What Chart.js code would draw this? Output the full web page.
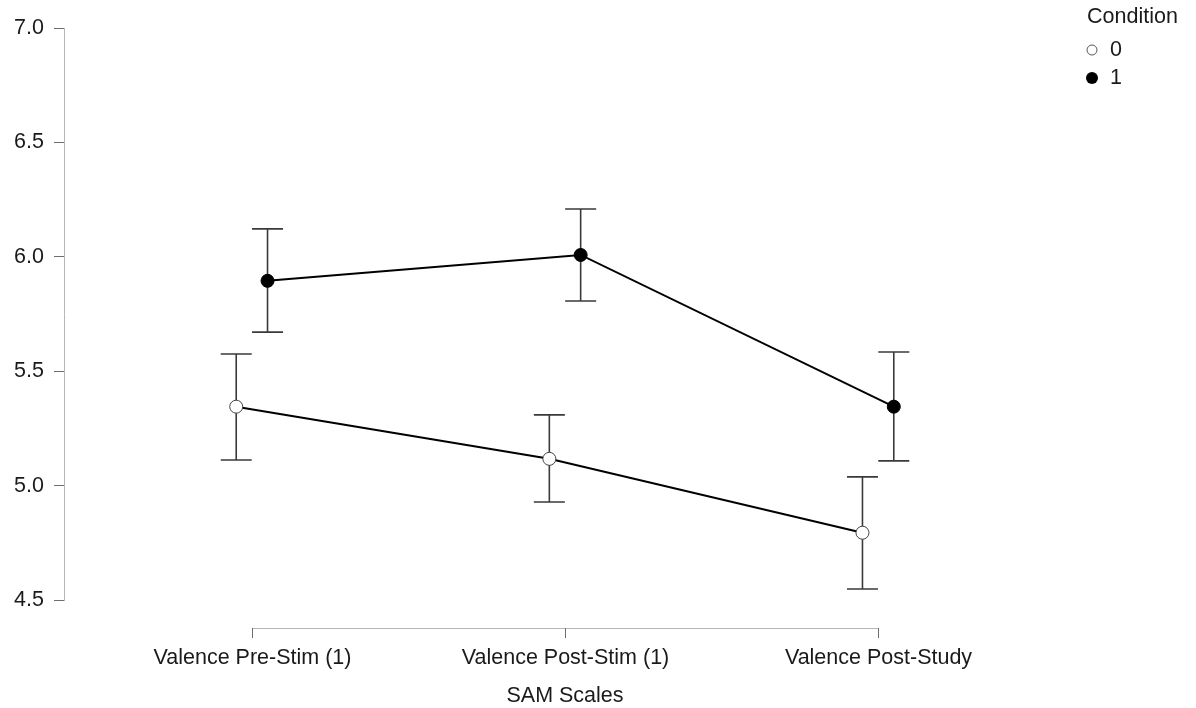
<!DOCTYPE html>
<html>
<head>
<meta charset="utf-8">
<script src="https://cdn.jsdelivr.net/npm/chart.js@4.4.0/dist/chart.umd.min.js"></script>
<style>
  html, body { margin: 0; padding: 0; background: #fff; }
  #wrap { width: 1196px; height: 708px; }
</style>
</head>
<body>
<div id="wrap"><canvas id="chart"></canvas></div>
<script>
const categories = ['Valence Pre-Stim (1)', 'Valence Post-Stim (1)', 'Valence Post-Study'];
const conditions = ['0', '1'];
const meansCond0 = [5.345, 5.117, 4.794];
const lowerCond0 = [5.112, 4.928, 4.548];
const upperCond0 = [5.575, 5.309, 5.038];
const meansCond1 = [5.895, 6.008, 5.345];
const lowerCond1 = [5.671, 5.807, 5.108];
const upperCond1 = [6.122, 6.209, 5.584];
const yTicks = [4.5, 5.0, 5.5, 6.0, 6.5, 7.0];
const xTitle = 'SAM Scales';
const legendTitle = 'Condition';

const fontFamily = "'Liberation Sans', Arial, sans-serif";
const fontSize = 21.5;
const dodge = 0.05; // horizontal offset of each condition around the category

function toPoints(means, shift) {
  return means.map((m, i) => ({ x: i + shift, y: m }));
}

// error bars, drawn under lines and markers
const errorBars = {
  id: 'errorBars',
  beforeDatasetsDraw(chart) {
    const ctx = chart.ctx;
    const yScale = chart.scales.y;
    const bounds = [[lowerCond0, upperCond0], [lowerCond1, upperCond1]];
    ctx.save();
    ctx.strokeStyle = '#3a3a3a';
    ctx.lineWidth = 1.6;
    chart.data.datasets.forEach((ds, d) => {
      const meta = chart.getDatasetMeta(d);
      meta.data.forEach((pt, i) => {
        const x = pt.x;
        const yLo = yScale.getPixelForValue(bounds[d][0][i]);
        const yHi = yScale.getPixelForValue(bounds[d][1][i]);
        ctx.beginPath();
        ctx.moveTo(x, yLo); ctx.lineTo(x, yHi);
        ctx.moveTo(x - 15.5, yLo); ctx.lineTo(x + 15.5, yLo);
        ctx.moveTo(x - 15.5, yHi); ctx.lineTo(x + 15.5, yHi);
        ctx.stroke();
      });
    });
    ctx.restore();
  }
};

// offset x axis, its labels and title, plus the legend at the top right
const axisAndLegend = {
  id: 'axisAndLegend',
  afterDraw(chart) {
    const ctx = chart.ctx;
    const xScale = chart.scales.x;
    const area = chart.chartArea;
    const axisY = area.bottom + 28;
    const x0 = xScale.getPixelForValue(0);
    const x1 = xScale.getPixelForValue(categories.length - 1);
    ctx.save();
    ctx.strokeStyle = '#b5b5b5';
    ctx.lineWidth = 1;
    ctx.beginPath();
    ctx.moveTo(x0, axisY + 0.5); ctx.lineTo(x1, axisY + 0.5);
    ctx.stroke();
    ctx.strokeStyle = '#6e6e6e';
    ctx.font = fontSize + 'px ' + fontFamily;
    ctx.fillStyle = '#1a1a1a';
    ctx.textAlign = 'center';
    ctx.textBaseline = 'middle';
    categories.forEach((c, i) => {
      const x = Math.round(xScale.getPixelForValue(i)) + 0.5;
      ctx.beginPath();
      ctx.moveTo(x, axisY); ctx.lineTo(x, axisY + 10);
      ctx.stroke();
      ctx.fillText(c, x, axisY + 30);
    });
    ctx.fillText(xTitle, (x0 + x1) / 2, axisY + 68);

    // legend
    ctx.textAlign = 'left';
    ctx.fillText(legendTitle, 1087, 17);
    const rows = [50, 78];
    conditions.forEach((c, i) => {
      ctx.beginPath();
      if (i === 0) {
        ctx.arc(1092, rows[i], 5, 0, Math.PI * 2);
        ctx.fillStyle = '#fff';
        ctx.fill();
        ctx.strokeStyle = '#555';
        ctx.lineWidth = 1;
        ctx.stroke();
      } else {
        ctx.arc(1092, rows[i], 6, 0, Math.PI * 2);
        ctx.fillStyle = '#000';
        ctx.fill();
      }
      ctx.fillStyle = '#1a1a1a';
      ctx.fillText(c, 1110, rows[i]);
    });
    ctx.restore();
  }
};

new Chart(document.getElementById('chart'), {
  type: 'scatter',
  data: {
    datasets: [
      {
        label: conditions[0],
        data: toPoints(meansCond0, -dodge),
        showLine: true,
        borderColor: '#000',
        borderWidth: 2,
        pointRadius: 6.5,
        pointBackgroundColor: '#fff',
        pointBorderColor: '#444',
        pointBorderWidth: 1
      },
      {
        label: conditions[1],
        data: toPoints(meansCond1, dodge),
        showLine: true,
        borderColor: '#000',
        borderWidth: 2,
        pointRadius: 6.5,
        pointBackgroundColor: '#000',
        pointBorderColor: '#000',
        pointBorderWidth: 1
      }
    ]
  },
  options: {
    responsive: true,
    maintainAspectRatio: false,
    animation: false,
    layout: { padding: { left: 0, right: 130, top: 28, bottom: 108 } },
    plugins: {
      legend: { display: false },
      tooltip: { enabled: false }
    },
    scales: {
      x: {
        type: 'linear',
        display: false,
        min: -0.6,
        max: 2.6
      },
      y: {
        min: 4.5,
        max: 7.0,
        afterFit: s => { s.width = 64; },
        afterBuildTicks: s => { s.ticks = yTicks.map(v => ({ value: v })); },
        ticks: {
          font: { family: fontFamily, size: fontSize },
          color: '#1a1a1a',
          padding: 10,
          callback: v => Number(v).toFixed(1)
        },
        grid: { drawOnChartArea: false, tickLength: 10, color: '#6e6e6e' },
        border: { color: '#b5b5b5', width: 1 }
      }
    }
  },
  plugins: [errorBars, axisAndLegend]
});
</script>
</body>
</html>
